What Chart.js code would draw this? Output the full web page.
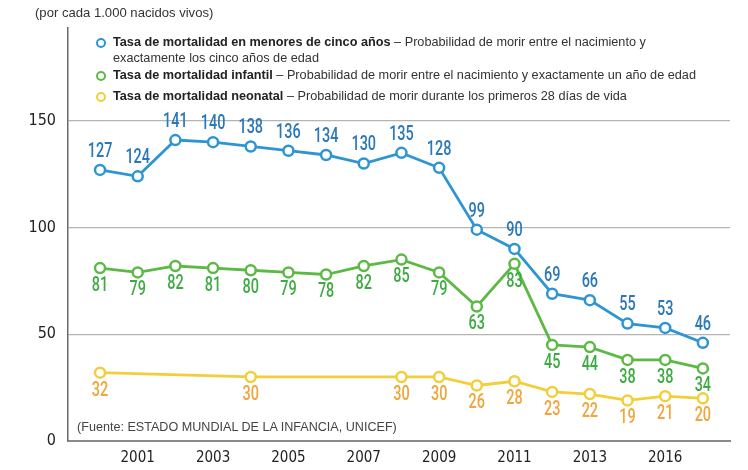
<!DOCTYPE html>
<html><head><meta charset="utf-8">
<script src="https://cdn.jsdelivr.net/npm/chart.js@4/dist/chart.umd.min.js"></script>
<style>
html,body{margin:0;padding:0;background:#fff;}
#wrap{position:relative;width:748px;height:470px;overflow:hidden;font-family:"Liberation Sans","DejaVu Sans",sans-serif;color:#333;}
canvas{position:absolute;left:0;top:0;}
.t{position:absolute;white-space:nowrap;color:#333;}
.lg{position:absolute;left:96px;font-size:12.7px;line-height:16px;color:#333;white-space:nowrap;}
.lg b{font-weight:bold;color:#222;}
.mk{position:absolute;left:0;top:4px;width:6px;height:6px;border-radius:50%;border:2.3px solid;background:#fff;}
.lg .tx{margin-left:17px;}
</style></head>
<body><div id="wrap">
<canvas id="c" width="748" height="470"></canvas>
<div class="t" style="left:35px;top:5px;font-size:13.1px;">(por cada 1.000 nacidos vivos)</div>
<div class="lg" style="top:34px;"><span class="mk" style="border-color:#2E95D3"></span><div class="tx"><b>Tasa de mortalidad en menores de cinco años</b> – Probabilidad de morir entre el nacimiento y<br>exactamente los cinco años de edad</div></div>
<div class="lg" style="top:67px;"><span class="mk" style="border-color:#5DB946"></span><div class="tx"><b>Tasa de mortalidad infantil</b> – Probabilidad de morir entre el nacimiento y exactamente un año de edad</div></div>
<div class="lg" style="top:88px;"><span class="mk" style="border-color:#F2CF3A"></span><div class="tx"><b>Tasa de mortalidad neonatal</b> – Probabilidad de morir durante los primeros 28 días de vida</div></div>
<div class="t" style="left:77px;top:420px;font-size:12.6px;color:#444;">(Fuente: ESTADO MUNDIAL DE LA INFANCIA, UNICEF)</div>
</div>
<script>
// ---- data ----
const categories = ['2000','2001','2002','2003','2004','2005','2006','2007','2008','2009','2010','2011','2012','2013','2014','2016','2017'];
const shownTickLabels = ['2001','2003','2005','2007','2009','2011','2013','2016'];
const under5 = [127,124,141,140,138,136,134,130,135,128,99,90,69,66,55,53,46];
const infant = [81,79,82,81,80,79,78,82,85,79,63,83,45,44,38,38,34];
const neonatal = [32,null,null,null,30,null,null,null,30,30,26,28,23,22,19,21,20];
const yTicks = [0,50,100,150];

const FONT = '"DejaVu Sans Condensed","Liberation Sans Narrow",sans-serif';
const LFONT = 'Roboto,"Liberation Sans",sans-serif';
const toXY = arr => arr.map((v,i)=>({x:i,y:v}));

const labelPlugin = {
  id:'vlabels',
  afterDatasetsDraw(chart){
    const ctx = chart.ctx;
    chart.data.datasets.forEach((ds,di)=>{
      const meta = chart.getDatasetMeta(di);
      const cfg = ds.vlabel;
      meta.data.forEach((pt,i)=>{
        const v = ds.data[i].y;
        if(v===null||v===undefined) return;
        ctx.save();
        ctx.font = '500 19.5px ' + LFONT;
        ctx.fillStyle = cfg.color;
        ctx.textAlign = 'center';
        ctx.textBaseline = 'middle';
        ctx.translate(pt.x, pt.y + cfg.dy);
        ctx.scale(0.74,1);
        ctx.fillText(String(v), 0, 0);
        ctx.restore();
      });
    });
  }
};

function mk(label,data,color,lblColor,dy){
  return {label,data:toXY(data),borderColor:color,backgroundColor:'#fff',pointBackgroundColor:'#fff',
    pointBorderColor:color,pointRadius:5,pointBorderWidth:2.5,borderWidth:2.8,tension:0,spanGaps:true,
    vlabel:{color:lblColor,dy:dy}};
}

new Chart(document.getElementById('c'),{
  type:'line',
  data:{datasets:[
    mk('neonatal',neonatal,'#F2CF3A','#F0A63A',18),
    mk('infant',infant,'#5DB946','#3FAA45',18),
    mk('under5',under5,'#2E95D3','#2A78B8',-18)
  ]},
  options:{
    responsive:false,animation:false,
    layout:{padding:{left:0,right:18,top:28,bottom:0}},
    plugins:{legend:{display:false},tooltip:{enabled:false}},
    scales:{
      x:{type:'linear',min:-0.85,max:16.72,
        afterBuildTicks(s){ s.ticks = shownTickLabels.map(l=>({value:categories.indexOf(l)})); },
        afterFit(s){ s.height = 29; },
        ticks:{autoSkip:false,maxRotation:0,padding:8,color:'#222',font:{family:FONT,size:15},
          callback:(v)=>categories[v]},
        grid:{display:false,drawTicks:false},
        border:{display:true,color:'#8a8a8a',width:2}
      },
      y:{type:'linear',min:0,max:193.5,
        afterBuildTicks(s){ s.ticks = yTicks.map(v=>({value:v})); },
        afterFit(s){ s.width = 68; },
        ticks:{padding:12,color:'#222',font:{family:FONT,size:16},callback:v=>String(v)},
        grid:{color:'#b4b4b4',lineWidth:1.3,drawTicks:false},
        border:{display:true,color:'#6a6a6a',width:1.5}
      }
    }
  },
  plugins:[labelPlugin]
});
</script>
</body></html>
